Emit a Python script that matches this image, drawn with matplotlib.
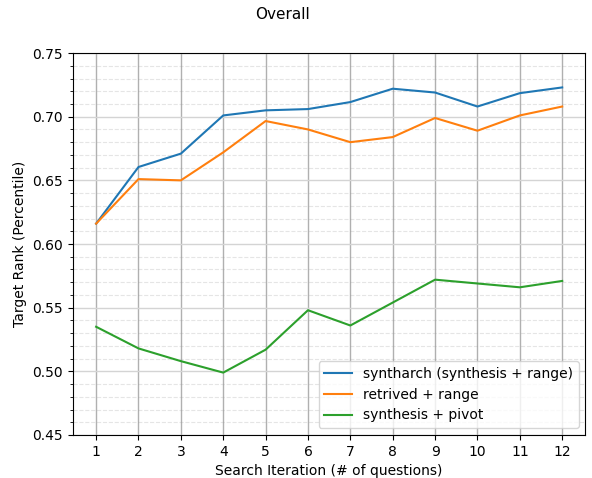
import matplotlib
matplotlib.use("Agg")
import matplotlib.pyplot as plt
from matplotlib.ticker import MultipleLocator

# данные
iterations = [1, 2, 3, 4, 5, 6, 7, 8, 9, 10, 11, 12]
syntharch = [0.616, 0.6605, 0.671, 0.701, 0.705, 0.706, 0.7115, 0.722, 0.719, 0.708, 0.7185, 0.723]
retrived = [0.616, 0.651, 0.650, 0.672, 0.6966, 0.690, 0.680, 0.684, 0.699, 0.689, 0.701, 0.708]
pivot = [0.535, 0.518, 0.508, 0.499, 0.517, 0.548, 0.536, 0.554, 0.572, 0.569, 0.566, 0.571]

fig = plt.figure(figsize=(5.92, 4.78), dpi=100)
ax = fig.add_axes([0.123, 0.09, 0.866, 0.799])

ax.plot(iterations, syntharch, color='#1f77b4', label='syntharch (synthesis + range)')
ax.plot(iterations, retrived, color='#ff7f0e', label='retrived + range')
ax.plot(iterations, pivot, color='#2ca02c', label='synthesis + pivot')

ax.set_xlim(0.45, 12.55)
ax.set_ylim(0.45, 0.75)
ax.set_xticks(iterations)
ax.yaxis.set_major_locator(MultipleLocator(0.05))
ax.yaxis.set_minor_locator(MultipleLocator(0.01))

# сетка
ax.grid(axis='x', which='major', color='#b0b0b0', linestyle='-', linewidth=1)
ax.grid(axis='y', which='major', color='#d4d4d4', linestyle='-', linewidth=1)
ax.grid(axis='y', which='minor', color='#999999', linestyle='--', linewidth=0.8, alpha=0.25)
ax.set_axisbelow(True)

ax.set_xlabel('Search Iteration (# of questions)')
ax.set_ylabel('Target Rank (Percentile)')
fig.suptitle('Overall', x=0.478, y=0.985, fontsize=11)

ax.legend(loc='lower right')

fig.savefig('out.png', dpi=100)
